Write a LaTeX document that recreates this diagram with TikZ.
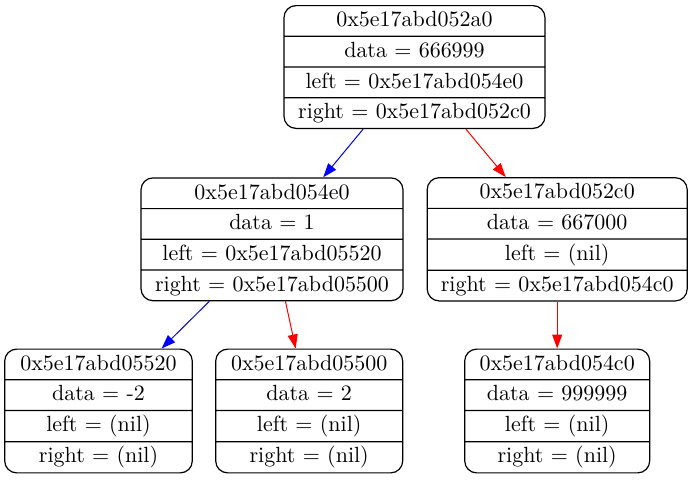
\documentclass[tikz,border=0pt]{standalone}
\usepackage{tikz}
\usetikzlibrary{arrows.meta, shapes.multipart}
\newcommand{\fs}{\rule[-2.5pt]{0pt}{10.75pt}}

\begin{document}
\begin{tikzpicture}[x=1pt, y=1pt, font=\fontsize{10.99}{12}\selectfont,
  every node/.style={draw, rectangle split, rectangle split parts=4, rounded corners=6pt, line width=0.6pt, inner xsep=2pt, inner ysep=2pt},
  >={Triangle[length=7pt, width=5pt]}]
  \useasboundingbox (0,0) rectangle (346.5,239.5);
  % Nodes
  \node[minimum width=130.5pt] (root) at (207.25,206) {\fs 0x5e17abd052a0 \nodepart{two}\fs data = 666999 \nodepart{three}\fs left = 0x5e17abd054e0 \nodepart{four}\fs right = 0x5e17abd052c0};
  \node[minimum width=131pt] (l) at (136,119.85) {\fs 0x5e17abd054e0 \nodepart{two}\fs data = 1 \nodepart{three}\fs left = 0x5e17abd05520 \nodepart{four}\fs right = 0x5e17abd05500};
  \node[minimum width=130pt] (r) at (278.6,119.85) {\fs 0x5e17abd052c0 \nodepart{two}\fs data = 667000 \nodepart{three}\fs left = (nil) \nodepart{four}\fs right = 0x5e17abd054c0};
  \node[minimum width=93.8pt] (ll) at (49.25,34) {\fs 0x5e17abd05520 \nodepart{two}\fs data = -2 \nodepart{three}\fs left = (nil) \nodepart{four}\fs right = (nil)};
  \node[minimum width=93.5pt] (lr) at (154.6,34) {\fs 0x5e17abd05500 \nodepart{two}\fs data = 2 \nodepart{three}\fs left = (nil) \nodepart{four}\fs right = (nil)};
  \node[minimum width=92.5pt] (rr) at (278.6,34) {\fs 0x5e17abd054c0 \nodepart{two}\fs data = 999999 \nodepart{three}\fs left = (nil) \nodepart{four}\fs right = (nil)};

  % Edges
  \draw[->, blue, line width=0.5pt] (root) -- (l);
  \draw[->, red, line width=0.5pt] (root) -- (r);
  \draw[->, blue, line width=0.5pt] (l) -- (ll);
  \draw[->, red, line width=0.5pt] (l) -- (lr);
  \draw[->, red, line width=0.5pt] (r) -- (rr);
\end{tikzpicture}
\end{document}
